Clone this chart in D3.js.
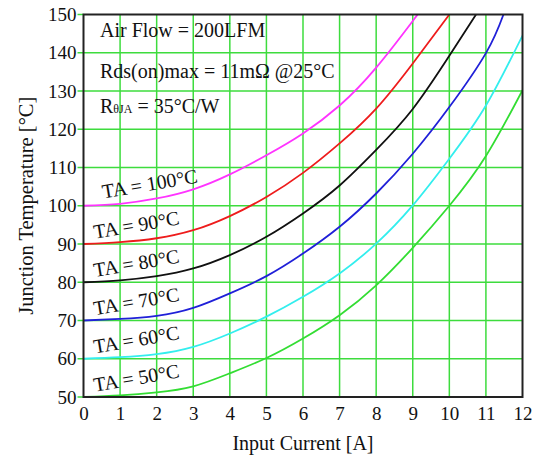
<!DOCTYPE html>
<html>
<head>
<meta charset="utf-8">
<script src="https://cdn.jsdelivr.net/npm/d3@7"></script>
<style>
  html, body { margin: 0; padding: 0; background: #fff; }
  svg { display: block; font-family: "Liberation Serif", "Times New Roman", serif; }
</style>
</head>
<body>
<svg id="chart" width="539" height="458"></svg>
<script>
// Input current (A) sampled at whole amps
const currents = [0, 1, 2, 3, 4, 5, 6, 7, 8, 9, 10, 11, 12];
const xTicks = [0, 1, 2, 3, 4, 5, 6, 7, 8, 9, 10, 11, 12];
const yTicks = [50, 60, 70, 80, 90, 100, 110, 120, 130, 140, 150];

// Ambient temperatures of each curve (°C)
const ambients = [100, 90, 80, 70, 60, 50];

// Junction temperature (°C) at each whole amp, per ambient
const tjTA100 = [100, 100.5, 101.9, 104.3, 108.2, 113.2, 118.9, 126.2, 136.1, 148.3];
const tjTA90  = [90, 90.5, 91.5, 93.6, 97.3, 102.3, 108.6, 116.3, 125.4, 137.2, 150];
const tjTA80  = [80, 80.5, 81.6, 83.6, 87.1, 91.9, 98.0, 105.3, 114.6, 125.3, 139.2];
const tjTA70  = [70, 70.4, 71.2, 73.3, 77.1, 81.6, 87.5, 94.5, 103.2, 113.6, 125.8, 139.9];
const tjTA60  = [60, 60.4, 61.2, 63.1, 66.6, 71.0, 76.2, 82.3, 90.1, 100.1, 112.3, 126.2, 144.5];
const tjTA50  = [50, 50.4, 51.2, 52.8, 56.2, 60.2, 65.3, 71.4, 79.2, 89.0, 100.0, 113.0, 130.2];

// Current at which a curve reaches the 150 °C limit (null = ends on a whole amp or at 12 A)
const limitCurrent = [9.13, null, 10.73, 11.48, null, null];
const limitTemp = 150;

const curveColors = ["#ff33ff", "#ee1c1c", "#111111", "#2020d8", "#33eeee", "#33dd33"];

const seriesTemps = [tjTA100, tjTA90, tjTA80, tjTA70, tjTA60, tjTA50];

const svg = d3.select("#chart");
const W = 539, H = 458;
const plot = { left: 83.5, right: 522.5, top: 14.5, bottom: 397 };

svg.append("rect").attr("width", W).attr("height", H).attr("fill", "#fff");

const x = d3.scaleLinear().domain([0, 12]).range([plot.left, plot.right]);
const y = d3.scaleLinear().domain([50, 150]).range([plot.bottom, plot.top]);

const gridColor = "#3ddc3d";

// Grid: vertical lines at each amp, horizontal every 10 °C (with short stubs left of the axis)
const grid = svg.append("g");
grid.selectAll("line.v").data(xTicks.slice(1, -1)).join("line")
  .attr("x1", d => x(d)).attr("x2", d => x(d))
  .attr("y1", plot.top).attr("y2", plot.bottom)
  .attr("stroke", gridColor).attr("stroke-width", 1.5);
grid.selectAll("line.h").data(yTicks).join("line")
  .attr("x1", plot.left - 6).attr("x2", d => (d === 50 || d === 150) ? plot.left : plot.right)
  .attr("y1", d => y(d)).attr("y2", d => y(d))
  .attr("stroke", gridColor).attr("stroke-width", 1.5);

// Clip curves to plot area
svg.append("clipPath").attr("id", "plotClip").append("rect")
  .attr("x", plot.left).attr("y", plot.top)
  .attr("width", plot.right - plot.left).attr("height", plot.bottom - plot.top);

const line = d3.line()
  .x(d => x(d[0])).y(d => y(d[1]))
  .curve(d3.curveNatural);

const curves = svg.append("g").attr("clip-path", "url(#plotClip)");
seriesTemps.forEach((temps, i) => {
  const pts = temps.map((t, k) => [currents[k], t]);
  if (limitCurrent[i] !== null) pts.push([limitCurrent[i], limitTemp]);
  curves.append("path")
    .attr("d", line(pts))
    .attr("fill", "none")
    .attr("stroke", curveColors[i])
    .attr("stroke-width", 1.8);
});

// Frame
svg.append("rect")
  .attr("x", plot.left).attr("y", plot.top)
  .attr("width", plot.right - plot.left).attr("height", plot.bottom - plot.top)
  .attr("fill", "none").attr("stroke", "#222").attr("stroke-width", 2);

// Axes tick labels
const yAxis = d3.axisLeft(y).tickValues(yTicks).tickSize(0).tickPadding(6).tickFormat(d3.format("d"));
const gy = svg.append("g").attr("transform", `translate(${plot.left - 1},0)`).call(yAxis);
gy.select(".domain").remove();
gy.selectAll("text").attr("font-size", 19).attr("fill", "#111")
  .attr("font-family", "Liberation Serif, Times New Roman, serif");

const xAxis = d3.axisBottom(x).tickValues(xTicks).tickSize(0).tickPadding(10).tickFormat(d3.format("d"));
const gx = svg.append("g").attr("transform", `translate(0,${plot.bottom})`).call(xAxis);
gx.select(".domain").remove();
gx.selectAll("text").attr("font-size", 19).attr("fill", "#111")
  .attr("font-family", "Liberation Serif, Times New Roman, serif");

// Axis titles
svg.append("text")
  .attr("x", (plot.left + plot.right) / 2).attr("y", 450)
  .attr("text-anchor", "middle").attr("font-size", 20).attr("fill", "#111")
  .text("Input Current [A]");
svg.append("text")
  .attr("transform", `translate(33,${(plot.top + plot.bottom) / 2}) rotate(-90)`)
  .attr("text-anchor", "middle").attr("font-size", 20.5).attr("fill", "#111")
  .text("Junction Temperature [°C]");

// Conditions
const notes = svg.append("g").attr("font-size", 20).attr("fill", "#111");
notes.append("text").attr("x", 100).attr("y", 37).text("Air Flow = 200LFM");
notes.append("text").attr("x", 100).attr("y", 78).text("Rds(on)max = 11mΩ @25°C");
const rth = notes.append("text").attr("x", 100).attr("y", 113);
rth.append("tspan").text("R");
rth.append("tspan").attr("font-size", 12).text("θJA");
rth.append("tspan").text(" = 35°C/W");

// Curve labels
const labels = svg.append("g").attr("font-size", 20).attr("fill", "#111");
ambients.forEach((ta, i) => {
  const lx = x(ta === 100 ? 0.54 : 0.31);
  const ly = y(ta + (ta === 100 ? 1.9 : 1.4));
  labels.append("text")
    .attr("transform", `translate(${lx},${ly}) rotate(-9.5)`)
    .text(`TA = ${ta}°C`);
});
</script>
</body>
</html>
